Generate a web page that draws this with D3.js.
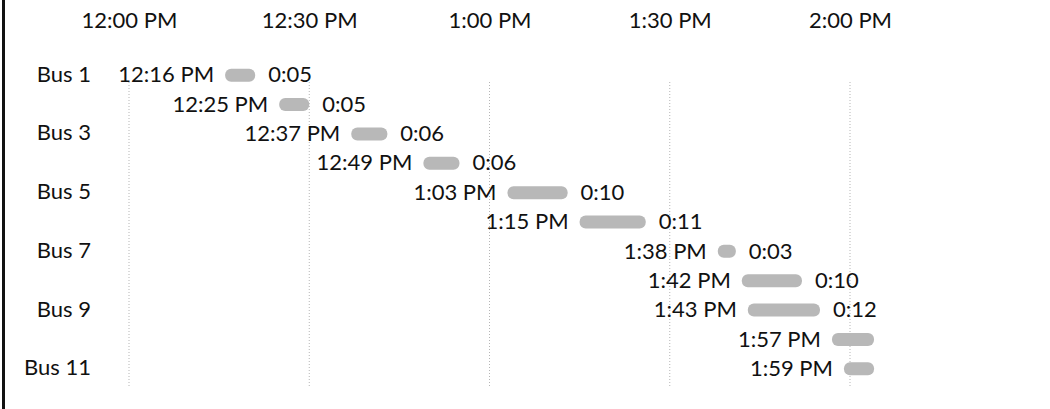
<!DOCTYPE html>
<html>
<head>
<meta charset="utf-8">
<script src="https://cdn.jsdelivr.net/npm/d3@7"></script>
<style>
  body { margin: 0; background: #fff; }
  text { font-family: Lato, "Open Sans", sans-serif; fill: #111; }
</style>
</head>
<body>
<div id="chart"></div>
<script>
// bus rows (only every other name is shown on the left)
var buses = ["Bus 1","Bus 2","Bus 3","Bus 4","Bus 5","Bus 6","Bus 7","Bus 8","Bus 9","Bus 10","Bus 11"];
var starts = ["12:16","12:25","12:37","12:49","13:03","13:15","13:38","13:42","13:43","13:57","13:59"];
// minutes; last two are guesses, their labels fall off the chart edge
var durations = [5, 5, 6, 6, 10, 11, 3, 10, 12, 7, 5];
var tickTimes = ["12:00","12:30","13:00","13:30","14:00"];

var width = 1050, height = 409;

var parse = d3.timeParse("%H:%M");
var fmtStart = d3.timeFormat("%-I:%M %p");
function fmtDur(m) { return Math.floor(m / 60) + ":" + d3.format("02")(m % 60); }

var data = buses.map(function(b, i) {
    var s = parse(starts[i]);
    return { bus: b, start: s, end: d3.timeMinute.offset(s, durations[i]), dur: durations[i] };
});

var svg = d3.select("#chart")
    .append("svg")
        .attr("width", width)
        .attr("height", height);

//blurry scanned look for the bars
var defs = svg.append("defs");
defs.append("filter").attr("id", "soft")
    .append("feGaussianBlur").attr("stdDeviation", 0.7);
defs.append("clipPath").attr("id", "plot")
    .append("rect").attr("x", 0).attr("y", 0).attr("width", 878).attr("height", height);

//x scale (time)
var x = d3.scaleTime()
    .domain([parse("12:00"), parse("14:00")])
    .range([129, 850]);

//y scale (rows)
var y = d3.scaleBand()
    .domain(buses)
    .range([60, 383]);

// left frame line
svg.append("line")
    .attr("x1", 3.5).attr("x2", 3.5)
    .attr("y1", 0).attr("y2", height)
    .attr("stroke", "#111")
    .attr("stroke-width", 3);

// dotted gridlines
svg.append("g")
    .selectAll("line")
    .data(tickTimes)
    .enter()
    .append("line")
        .attr("x1", function(d) { return x(parse(d)); })
        .attr("x2", function(d) { return x(parse(d)); })
        .attr("y1", 82)
        .attr("y2", 386)
        .attr("stroke", "#b5b5b5")
        .attr("stroke-dasharray", "1,2");

// top time axis
var xAxis = svg.append("g")
    .attr("transform", "translate(0,28)")
    .call(d3.axisTop(x)
        .tickValues(tickTimes.map(parse))
        .tickFormat(fmtStart)
        .tickSize(0)
        .tickPadding(0));
xAxis.select(".domain").remove();
xAxis.selectAll("text")
    .attr("font-size", "22px")
    .attr("fill", "#111");

// bus names
var yAxis = svg.append("g")
    .attr("transform", "translate(91,0)")
    .call(d3.axisLeft(y)
        .tickFormat(function(d, i) { return i % 2 == 0 ? d : ""; })
        .tickSize(0)
        .tickPadding(0));
yAxis.select(".domain").remove();
yAxis.selectAll("text")
    .attr("font-size", "22px")
    .attr("fill", "#111");

// bars
svg.append("g")
    .selectAll("rect")
    .data(data)
    .enter()
    .append("rect")
        .attr("x", function(d) { return x(d.start); })
        .attr("y", function(d) { return y(d.bus) + y.bandwidth() / 2 - 6; })
        .attr("width", function(d) { return x(d.end) - x(d.start); })
        .attr("height", 13)
        .attr("rx", 6)
        .attr("fill", "#b8b8b8")
        .attr("filter", "url(#soft)");

var labels = svg.append("g").attr("clip-path", "url(#plot)");

// start time labels
labels.append("g")
    .selectAll("text")
    .data(data)
    .enter()
    .append("text")
        .attr("x", function(d) { return x(d.start) - 11; })
        .attr("y", function(d) { return y(d.bus) + y.bandwidth() / 2; })
        .attr("dy", "0.35em")
        .attr("text-anchor", "end")
        .attr("font-size", "22px")
        .text(function(d) { return fmtStart(d.start); });

// duration labels
labels.append("g")
    .selectAll("text")
    .data(data)
    .enter()
    .append("text")
        .attr("x", function(d) { return x(d.end) + 13; })
        .attr("y", function(d) { return y(d.bus) + y.bandwidth() / 2; })
        .attr("dy", "0.35em")
        .attr("font-size", "22px")
        .text(function(d) { return fmtDur(d.dur); });
</script>
</body>
</html>
